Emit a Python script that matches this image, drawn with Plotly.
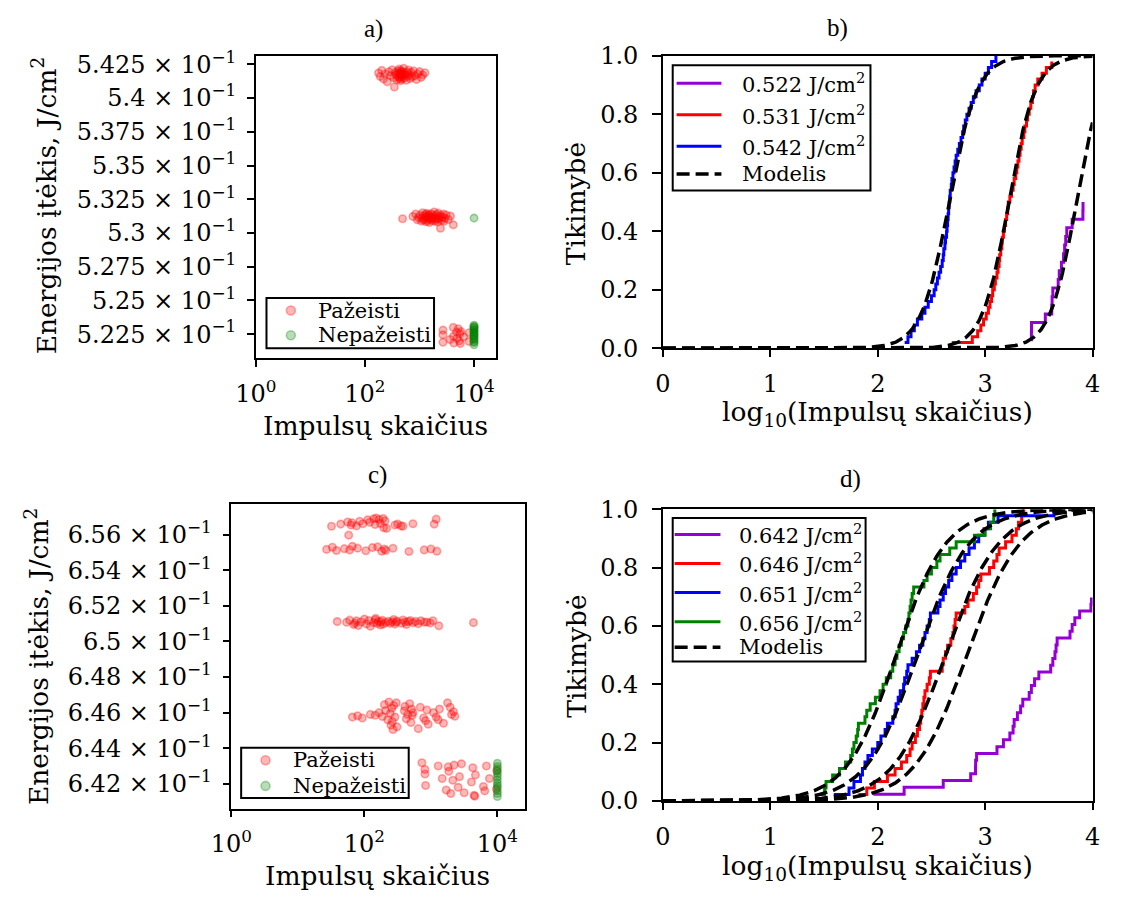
import math
import plotly.graph_objects as go

W, H = 1122, 907
MAX_PULSES = 10000  # pulse limit: samples still intact at this count are "Nepažeisti"

# ---------------- series at ~0.52-0.54 J/cm2 (panels a, b) ----------------
fluence_labels_top = [0.522, 0.531, 0.542]

pulses_542 = [178, 191, 204, 219, 234, 257, 275, 295, 316, 335,
              347, 359, 372, 385, 398, 407, 412, 422, 427, 437,
              442, 447, 452, 457, 462, 468, 473, 484, 490, 501,
              513, 525, 537, 556, 575, 596, 617, 631, 653, 676,
              708, 741, 776, 822, 881, 933, 1000, 1072, 1148, 1259]
fluence_542 = [0.54185, 0.54160, 0.54205, 0.54142, 0.54178, 0.54120, 0.54195, 0.54166, 0.54210, 0.54150,
               0.54082, 0.54188, 0.54172, 0.54135, 0.54200, 0.54158, 0.54181, 0.54214, 0.54146, 0.54169,
               0.54192, 0.54128, 0.54175, 0.54203, 0.54155, 0.54184, 0.54139, 0.54197, 0.54163, 0.54177,
               0.54220, 0.54148, 0.54186, 0.54170, 0.54132, 0.54193, 0.54161, 0.54208, 0.54174, 0.54144,
               0.54189, 0.54157, 0.54201, 0.54166, 0.54138, 0.54179, 0.54196, 0.54153, 0.54171, 0.54187]
survived_542 = []

pulses_531 = [490, 759, 851, 912, 966, 1023, 1072, 1109, 1148, 1175,
              1216, 1245, 1288, 1318, 1349, 1365, 1396, 1429, 1445, 1479,
              1514, 1549, 1585, 1622, 1641, 1698, 1758, 1820, 1862, 1928,
              1972, 2018, 2065, 2113, 2163, 2213, 2291, 2344, 2427, 2483,
              2570, 2661, 2754, 2818, 2917, 3090, 3388, 3715, 4169]
fluence_531 = [0.53105, 0.53122, 0.53140, 0.53098, 0.53115, 0.53132, 0.53088, 0.53110, 0.53150, 0.53095,
               0.53126, 0.53104, 0.53138, 0.53083, 0.53118, 0.53145, 0.53092, 0.53128, 0.53108, 0.53135,
               0.53078, 0.53120, 0.53101, 0.53142, 0.53113, 0.53090, 0.53130, 0.53106, 0.53155, 0.53086,
               0.53124, 0.53099, 0.53137, 0.53111, 0.53082, 0.53147, 0.53103, 0.53119, 0.53035, 0.53129,
               0.53094, 0.53116, 0.53141, 0.53087, 0.53109, 0.53133, 0.53100, 0.53125, 0.53060]
survived_531 = [0.53110]

pulses_522 = [2690, 2695, 2700, 3631, 4169, 4200, 4266, 4786, 4898, 5129,
              5370, 5495, 5623, 5754, 6457, 8128, 8150]
fluence_522 = [0.52245, 0.52190, 0.52280, 0.52210, 0.52300, 0.52235, 0.52185, 0.52265, 0.52220, 0.52290,
               0.52200, 0.52255, 0.52180, 0.52270, 0.52230, 0.52195, 0.52260]
survived_522 = [0.52172, 0.52188, 0.52196, 0.52210, 0.52214, 0.52227, 0.52238, 0.52241, 0.52252,
                0.52260, 0.52268, 0.52279, 0.52283, 0.52295, 0.52301, 0.52309, 0.52316]

# ---------------- series at ~0.64-0.66 J/cm2 (panels c, d) ----------------
fluence_labels_bottom = [0.642, 0.646, 0.651, 0.656]

pulses_656 = [27, 32, 33, 38, 44, 50, 56, 58, 60, 63,
              65, 66, 76, 79, 85, 95, 105, 112, 120, 132,
              138, 145, 151, 158, 166, 174, 182, 191, 195, 200,
              204, 209, 216, 269, 288, 316, 355, 380, 468, 537,
              794, 1000, 1122, 1202, 1230]
fluence_656 = [0.65518, 0.65648, 0.65530, 0.65512, 0.65660, 0.65522, 0.65672, 0.65598, 0.65515, 0.65655,
               0.65668, 0.65535, 0.65650, 0.65525, 0.65676, 0.65662, 0.65510, 0.65684, 0.65670, 0.65528,
               0.65690, 0.65658, 0.65694, 0.65532, 0.65686, 0.65664, 0.65508, 0.65692, 0.65640, 0.65520,
               0.65678, 0.65512, 0.65636, 0.65524, 0.65655, 0.65660, 0.65650, 0.65648, 0.65506, 0.65662,
               0.65515, 0.65520, 0.65660, 0.65688, 0.65508]
survived_656 = []

pulses_651 = [39, 54, 60, 69, 72, 76, 81, 89, 100, 107,
              117, 123, 138, 145, 148, 155, 162, 174, 178, 186,
              191, 209, 229, 245, 263, 275, 288, 302, 309, 363,
              380, 407, 427, 457, 490, 537, 589, 646, 708, 794,
              871, 977, 1072, 1318, 4365]
fluence_651 = [0.65112, 0.65108, 0.65120, 0.65095, 0.65104, 0.65116, 0.65090, 0.65110, 0.65126, 0.65099,
               0.65118, 0.65086, 0.65107, 0.65122, 0.65130, 0.65101, 0.65113, 0.65093, 0.65109, 0.65119,
               0.65097, 0.65106, 0.65114, 0.65102, 0.65111, 0.65124, 0.65098, 0.65108, 0.65115, 0.65103,
               0.65121, 0.65110, 0.65096, 0.65112, 0.65118, 0.65105, 0.65113, 0.65100, 0.65116, 0.65108,
               0.65110, 0.65104, 0.65117, 0.65088, 0.65106]
survived_651 = []

pulses_646 = [66, 79, 93, 123, 145, 166, 186, 200, 209, 224,
              234, 245, 251, 257, 263, 269, 275, 288, 302, 309,
              398, 407, 427, 447, 479, 501, 513, 525, 537, 646,
              692, 776, 832, 871, 912, 1096, 1202, 1288, 1349, 1549,
              1778, 1950, 2042, 2188, 2291]
fluence_646 = [0.64575, 0.64582, 0.64570, 0.64590, 0.64585, 0.64600, 0.64578, 0.64645, 0.64612, 0.64560,
               0.64660, 0.64595, 0.64530, 0.64625, 0.64550, 0.64505, 0.64640, 0.64575, 0.64655, 0.64520,
               0.64610, 0.64635, 0.64565, 0.64590, 0.64650, 0.64545, 0.64620, 0.64585, 0.64600, 0.64510,
               0.64630, 0.64570, 0.64555, 0.64615, 0.64535, 0.64600, 0.64575, 0.64560, 0.64620, 0.64540,
               0.64655, 0.64630, 0.64590, 0.64605, 0.64580]
survived_646 = []

pulses_642 = [91, 176, 407, 733, 813, 815, 832, 1288, 1479, 1698,
              1820, 1862, 1995, 2138, 2239, 2570, 2692, 2884, 3162, 4074,
              4266, 4467, 4571, 4677, 6166, 6457, 6839, 7586, 9661, 9772]
fluence_642 = [0.64200, 0.64260, 0.64310, 0.64318, 0.64280, 0.64255, 0.64190, 0.64300, 0.64230, 0.64165,
               0.64295, 0.64270, 0.64145, 0.64220, 0.64305, 0.64180, 0.64240, 0.64312, 0.64150, 0.64210,
               0.64290, 0.64135, 0.64130, 0.64250, 0.64185, 0.64160, 0.64300, 0.64230, 0.64170, 0.64275]
survived_642 = [0.64128, 0.64145, 0.64160, 0.64178, 0.64190, 0.64205, 0.64222, 0.64240, 0.64256,
                0.64270, 0.64285, 0.64298, 0.64315]

# ---------------- fitted damage-probability model (log10 pulses) ----------------
model_center_top = [3.85, 3.22, 2.665]
model_width_top = [0.123, 0.123, 0.13]
model_center_bottom = [2.83, 2.63, 2.37, 2.17]
model_width_bottom = [0.245, 0.245, 0.24, 0.23]

# ---------------- tick labels ----------------
ytick_vals_a = [0.5225, 0.525, 0.5275, 0.53, 0.5325, 0.535, 0.5375, 0.54, 0.5425]
ytick_text_a = ["5.225", "5.25", "5.275", "5.3", "5.325", "5.35", "5.375", "5.4", "5.425"]
ytick_vals_c = [0.642, 0.644, 0.646, 0.648, 0.65, 0.652, 0.654, 0.656]
ytick_text_c = ["6.42", "6.44", "6.46", "6.48", "6.5", "6.52", "6.54", "6.56"]
xtick_vals_log = [1, 100, 10000]
xtick_text_log = ["10<sup>0</sup>", "10<sup>2</sup>", "10<sup>4</sup>"]

series_top = [(pulses_522, fluence_522, survived_522),
              (pulses_531, fluence_531, survived_531),
              (pulses_542, fluence_542, survived_542)]
series_bottom = [(pulses_642, fluence_642, survived_642),
                 (pulses_646, fluence_646, survived_646),
                 (pulses_651, fluence_651, survived_651),
                 (pulses_656, fluence_656, survived_656)]
colors_top = ["#9400d3", "#ff0000", "#0000ff"]
colors_bottom = ["#9400d3", "#ff0000", "#0000ff", "#008000"]

SERIF = "DejaVu Serif"
RED_FILL = "rgba(255,0,0,0.28)"
RED_EDGE = "rgba(255,0,0,0.32)"
GREEN_FILL = "rgba(0,128,0,0.28)"
GREEN_EDGE = "rgba(0,128,0,0.32)"
MODEL_DASH = "13px,6px"

# plot-area boxes in pixels: left, top, right, bottom
boxes = {
    "a": (241, 43, 488, 355),
    "b": (659, 43, 1100, 345),
    "c": (216, 506, 517, 820),
    "d": (659, 511, 1100, 812),
}


def px(x):
    return x / W


def py(y):
    return 1 - y / H


fig = go.Figure()
shapes = []
annotations = []


def scatter_panel(series, xa, ya):
    dmg_x, dmg_y, ok_x, ok_y = [], [], [], []
    for pulses, flu, surv in series:
        dmg_x += pulses
        dmg_y += flu
        ok_x += [MAX_PULSES] * len(surv)
        ok_y += surv
    fig.add_trace(go.Scatter(
        x=dmg_x, y=dmg_y, mode="markers", name="Pažeisti", showlegend=False,
        marker=dict(size=7.5, color=RED_FILL, line=dict(color=RED_EDGE, width=1.6)),
        xaxis=xa, yaxis=ya))
    fig.add_trace(go.Scatter(
        x=ok_x, y=ok_y, mode="markers", name="Nepažeisti", showlegend=False,
        marker=dict(size=7.5, color=GREEN_FILL, line=dict(color=GREEN_EDGE, width=1.6)),
        xaxis=xa, yaxis=ya))


def ecdf_panel(series, labels, colors, centers, widths, xa, ya):
    for (pulses, flu, surv), lab, col in zip(series, labels, colors):
        n_total = len(pulses) + len(surv)
        xs = sorted(math.log10(p) for p in pulses)
        ys = [(i + 1) / n_total for i in range(len(xs))]
        fig.add_trace(go.Scatter(
            x=xs, y=ys, mode="lines", line=dict(color=col, width=3, shape="hv"),
            name=f"{lab} J/cm²", showlegend=False, xaxis=xa, yaxis=ya))
    grid = [i / 100 for i in range(401)]
    for m, s in zip(centers, widths):
        fig.add_trace(go.Scatter(
            x=grid, y=[1 / (1 + math.exp(-(g - m) / s)) for g in grid],
            mode="lines", line=dict(color="black", width=3.5, dash=MODEL_DASH),
            name="Modelis", showlegend=False, xaxis=xa, yaxis=ya))


scatter_panel(series_top, "x", "y")
ecdf_panel(series_top, fluence_labels_top, colors_top, model_center_top, model_width_top, "x2", "y2")
scatter_panel(series_bottom, "x3", "y3")
ecdf_panel(series_bottom, fluence_labels_bottom, colors_bottom, model_center_bottom,
           model_width_bottom, "x4", "y4")

# ---------------- legends (framed boxes inside the panels) ----------------
LEGEND_FONT = dict(family=SERIF, size=21, color="black")


def legend_frame(l, t, r, b):
    shapes.append(dict(type="rect", xref="paper", yref="paper", x0=px(l), x1=px(r),
                       y0=py(b), y1=py(t), line=dict(color="black", width=2),
                       fillcolor="white", layer="above"))


def legend_text(x, y, text):
    annotations.append(dict(text=text, x=px(x), y=py(y), xref="paper", yref="paper",
                            showarrow=False, font=LEGEND_FONT, xanchor="left", yanchor="middle"))


def legend_marker(x, y, fill, edge):
    shapes.append(dict(type="circle", xref="paper", yref="paper", xsizemode="pixel",
                       ysizemode="pixel", xanchor=px(x), yanchor=py(y), x0=-4.5, x1=4.5,
                       y0=-4.5, y1=4.5, fillcolor=fill, line=dict(color=edge, width=1.6),
                       layer="above"))


def legend_line(x0, x1, y, color, width, dash="solid"):
    shapes.append(dict(type="line", xref="paper", yref="paper", x0=px(x0), x1=px(x1),
                       y0=py(y), y1=py(y), line=dict(color=color, width=width, dash=dash),
                       layer="above"))


def scatter_legend(l, t, r, b, sym_x, text_x, rows):
    legend_frame(l, t, r, b)
    legend_marker(sym_x, rows[0], RED_FILL, RED_EDGE)
    legend_text(text_x, rows[0], "Pažeisti")
    legend_marker(sym_x, rows[1], GREEN_FILL, GREEN_EDGE)
    legend_text(text_x, rows[1], "Nepažeisti")


def ecdf_legend(l, t, r, b, line_x0, line_x1, text_x, rows, labels, colors):
    legend_frame(l, t, r, b)
    for y, lab, col in zip(rows, labels, colors):
        legend_line(line_x0, line_x1, y, col, 3)
        legend_text(text_x, y, f"{lab} J/cm<sup>2</sup>")
    legend_line(line_x0, line_x1, rows[-1], "black", 3.5, MODEL_DASH)
    legend_text(text_x, rows[-1], "Modelis")


scatter_legend(252, 293, 424, 345, 277, 303, [306, 331.5])
scatter_legend(226, 757, 398, 809, 251, 277.5, [770, 796.5])
ecdf_legend(669, 53, 872, 182, 673, 719, 738, [71.5, 104, 136.5, 165],
            fluence_labels_top, colors_top)
ecdf_legend(669, 520, 867, 668, 671, 718, 735.5, [537, 567, 597, 627, 653.5],
            fluence_labels_bottom, colors_bottom)

# ---------------- axes ----------------
axis_common = dict(showline=True, linecolor="black", linewidth=1.6, mirror=True,
                   ticks="outside", ticklen=7, tickwidth=1.5, tickcolor="black",
                   showgrid=False, zeroline=False, ticklabelstandoff=6,
                   tickfont=dict(family=SERIF, size=24, color="black"))


def dom(key):
    l, t, r, b = boxes[key]
    return [px(l), px(r)], [py(b), py(t)]


layout_axes = {}
for i, key in enumerate(["a", "b", "c", "d"]):
    xd, yd = dom(key)
    sx = "" if i == 0 else str(i + 1)
    layout_axes["xaxis" + sx] = dict(axis_common, domain=xd, anchor="y" + sx)
    layout_axes["yaxis" + sx] = dict(axis_common, domain=yd, anchor="x" + sx)

log_x = dict(type="log", range=[0, 4.41], tickvals=xtick_vals_log, ticktext=xtick_text_log)
layout_axes["xaxis"].update(log_x)
layout_axes["xaxis3"].update(log_x)
layout_axes["yaxis"].update(range=[0.52073, 0.54314], tickvals=ytick_vals_a,
                            ticktext=[t + " × 10<sup>−1</sup>" for t in ytick_text_a])
layout_axes["yaxis3"].update(range=[0.6406, 0.65771], tickvals=ytick_vals_c,
                             ticktext=[t + " × 10<sup>−1</sup>" for t in ytick_text_c])
for sx in ["2", "4"]:
    layout_axes["xaxis" + sx].update(range=[0, 4], tickvals=[0, 1, 2, 3, 4])
    layout_axes["yaxis" + sx].update(range=[0, 1], tickvals=[0, 0.2, 0.4, 0.6, 0.8, 1.0],
                                     ticktext=["0.0", "0.2", "0.4", "0.6", "0.8", "1.0"],
                                     ticklen=9, ticklabelstandoff=9)

# ---------------- panel titles and axis titles ----------------
title_font = dict(family="Liberation Serif", size=25, color="black")
label_font = dict(family=SERIF, size=26.5, color="black")
for text, x, y in [("a)", 362, 15), ("b)", 838, 14), ("c)", 366, 476), ("d)", 851, 480)]:
    annotations.append(dict(text=text, x=px(x), y=py(y), xref="paper", yref="paper",
                            showarrow=False, font=title_font, xanchor="center", yanchor="middle"))
for text, x, y, ang in [
    ("Impulsų skaičius", 364, 425, 0),
    ("log<sub>10</sub>(Impulsų skaičius)", 879, 412, 0),
    ("Impulsų skaičius", 366, 889, 0),
    ("log<sub>10</sub>(Impulsų skaičius)", 879, 881, 0),
    ("Energijos įtėkis, J/cm<sup>2</sup>", 24, 197, -90),
    ("Tikimybė", 570, 196, -90),
    ("Energijos įtėkis, J/cm<sup>2</sup>", 16, 663, -90),
    ("Tikimybė", 570, 663, -90),
]:
    annotations.append(dict(text=text, x=px(x), y=py(y), xref="paper", yref="paper",
                            showarrow=False, font=label_font, textangle=ang,
                            xanchor="center", yanchor="middle"))

fig.update_layout(
    width=W, height=H, margin=dict(l=0, r=0, t=0, b=0),
    paper_bgcolor="white", plot_bgcolor="white", showlegend=False,
    shapes=shapes, annotations=annotations, **layout_axes,
)

fig.write_html("out.html")
